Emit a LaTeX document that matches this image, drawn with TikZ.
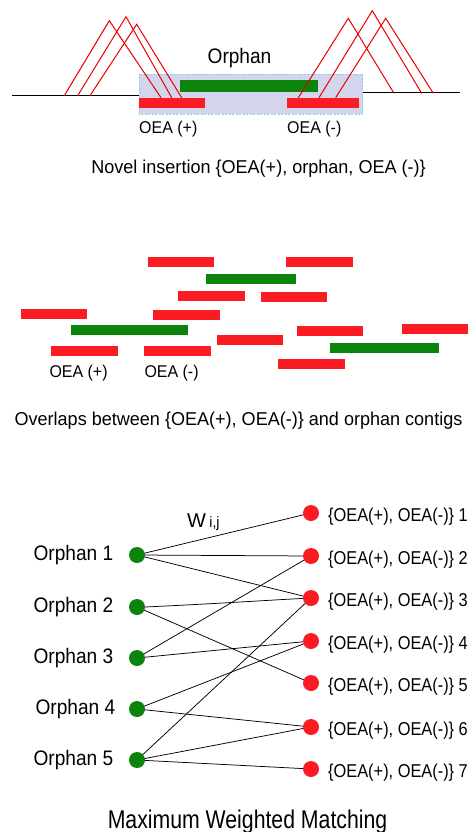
\documentclass[tikz,border=0pt]{standalone}
\usepackage{fontspec}
\setmainfont{Liberation Sans}
\newfontfamily\capfont[FakeStretch=0.97]{Liberation Sans}
\newfontfamily\labfont[FakeStretch=0.91]{Liberation Sans}
\newfontfamily\oeafont[FakeStretch=0.88]{Liberation Sans}
\newfontfamily\maxfont[FakeStretch=0.83]{Liberation Sans}
\newfontfamily\smfont[FakeStretch=0.94]{Liberation Sans}
\definecolor{barred}{RGB}{250,28,34}
\definecolor{bargreen}{RGB}{10,132,10}
\definecolor{trired}{RGB}{232,0,0}
\definecolor{lav}{RGB}{212,212,236}
\definecolor{cyanb}{RGB}{120,218,242}
\tikzset{
  redbar/.style={fill=barred},
  greenbar/.style={fill=bargreen},
  tri/.style={draw=trired, line width=1pt, line join=miter},
  gdot/.style={circle, inner sep=0pt, minimum size=16pt},
  rdot/.style={circle, inner sep=0pt, minimum size=16pt},
  olab/.style={anchor=base east, inner sep=0pt, font=\labfont\fontsize{21}{21}\selectfont},
  rlab/.style={anchor=base west, inner sep=0pt, font=\oeafont\fontsize{18.6}{18.6}\selectfont},
  small/.style={inner sep=0pt, anchor=base west, font=\smfont\fontsize{17}{17}\selectfont},
  caption/.style={inner sep=0pt, anchor=base, font=\capfont\fontsize{18.6}{18.6}\selectfont},
  edge/.style={draw=black, line width=0.75pt}
}
\begin{document}
\begin{tikzpicture}[x=1pt,y=-1pt]
\useasboundingbox (0,0) rectangle (468,832);
% ---------- top section ----------
\draw[black, line width=1pt] (12,95.7) -- (139,95.7);
\draw[black, line width=1pt] (362.7,92.7) -- (460,92.7);
\fill[lav] (139.3,74) rectangle (362.7,114);
\draw[cyanb, line width=0.8pt, dash pattern=on 2pt off 1.5pt] (139.3,74) rectangle (362.7,114);
\fill[greenbar] (180,80) rectangle (317.7,91.7);
\fill[redbar] (139.3,97.7) rectangle (205,107.7);
\fill[redbar] (287.3,98.3) rectangle (359,108.3);
% left triangles
\draw[tri] (64.3,95.7) -- (109.3,20.7) -- (161,97.7);
\draw[tri] (77.7,95.7) -- (126,16.7) -- (171.7,97.7);
\draw[tri] (90,95.7) -- (136.7,24.3) -- (181.7,97.7);
% right triangles
\draw[tri] (298.3,97.7) -- (348.3,18.3) -- (394,93.3);
\draw[tri] (319,97.7) -- (372.3,10.7) -- (421.7,93.3);
\draw[tri] (335.7,97.7) -- (385.7,18.3) -- (433.3,93.3);
\node[inner sep=0pt, anchor=base, font=\labfont\fontsize{21}{21}\selectfont] (orph) at (239.5,63.3) {Orphan};
\node[small] (oeap1) at (139,133.3) {OEA (+)};
\node[small] (oeam1) at (287,133.3) {OEA (-)};
\node[caption] (cap1) at (258.5,173.3) {Novel insertion \{OEA(+), orphan, OEA (-)\}};
% ---------- middle section ----------
\fill[redbar] (148,257) rectangle (214,267);
\fill[redbar] (286,257) rectangle (353,267);
\fill[greenbar] (206,274) rectangle (296,284);
\fill[redbar] (178,291) rectangle (245,301);
\fill[redbar] (261,292) rectangle (327,302);
\fill[redbar] (21,309) rectangle (87,319);
\fill[redbar] (153,310) rectangle (220,320);
\fill[greenbar] (71,325) rectangle (188,335);
\fill[redbar] (297,326) rectangle (363,336);
\fill[redbar] (402,324) rectangle (468,334);
\fill[redbar] (217,335) rectangle (283,345);
\fill[greenbar] (330,343) rectangle (439,353);
\fill[redbar] (51,346) rectangle (118,356);
\fill[redbar] (144,346) rectangle (211,356);
\fill[redbar] (278,359) rectangle (345,369);
\node[small] (oeap2) at (49.3,377.7) {OEA (+)};
\node[small] (oeam2) at (144.3,377.7) {OEA (-)};
\node[caption] (cap2) at (238.5,425) {Overlaps between \{OEA(+), OEA(-)\} and orphan contigs};
% ---------- bottom section ----------
\foreach \i/\y/\dx in {1/555/0,2/607/0,3/658/0,4/709/2,5/760/0}{
  \node[gdot] (g\i) at (137,\y) {};
  \node[olab] (ol\i) at (113.5+\dx,\y+5) {Orphan \i};
}
\foreach \j/\y in {1/513,2/556,3/598,4/641,5/683,6/727,7/769}{
  \node[rdot] (r\j) at (311,\y) {};
  \node[rlab] (rl\j) at (328,\y+8) {\{OEA(+), OEA(-)\} \j};
}
\draw[edge] (g1.center) -- (r1.center);
\draw[edge] (g1.center) -- (r2.center);
\draw[edge] (g1.center) -- (r3.center);
\draw[edge] (g2.east) .. controls (230,603) and (270,600) .. (r3.center);
\draw[edge] (g2.center) -- (r5.center);
\draw[edge] (g3.center) -- (r2.center);
\draw[edge] (g3.center) -- (r4.center);
\draw[edge] (g4.center) -- (r4.center);
\draw[edge] (g4.center) -- (r6.center);
\draw[edge] (g5.center) -- (r3.center);
\draw[edge] (g5.center) -- (r6.center);
\draw[edge] (g5.center) -- (r7.center);
\foreach \i in {1,...,5}{
  \fill[bargreen] (g\i.center) circle (8);
}
\foreach \j in {1,...,7}{
  \fill[barred] (r\j.center) circle (8);
}
\node[inner sep=0pt, anchor=base west] (wij) at (187,527.3) {\fontsize{20}{20}\selectfont W\,\smfont\fontsize{15}{15}\selectfont i,j};
\node[inner sep=0pt, anchor=base, font=\maxfont\fontsize{25.6}{25.6}\selectfont] (cap3) at (247.5,828) {Maximum Weighted Matching};
\end{tikzpicture}
\end{document}
